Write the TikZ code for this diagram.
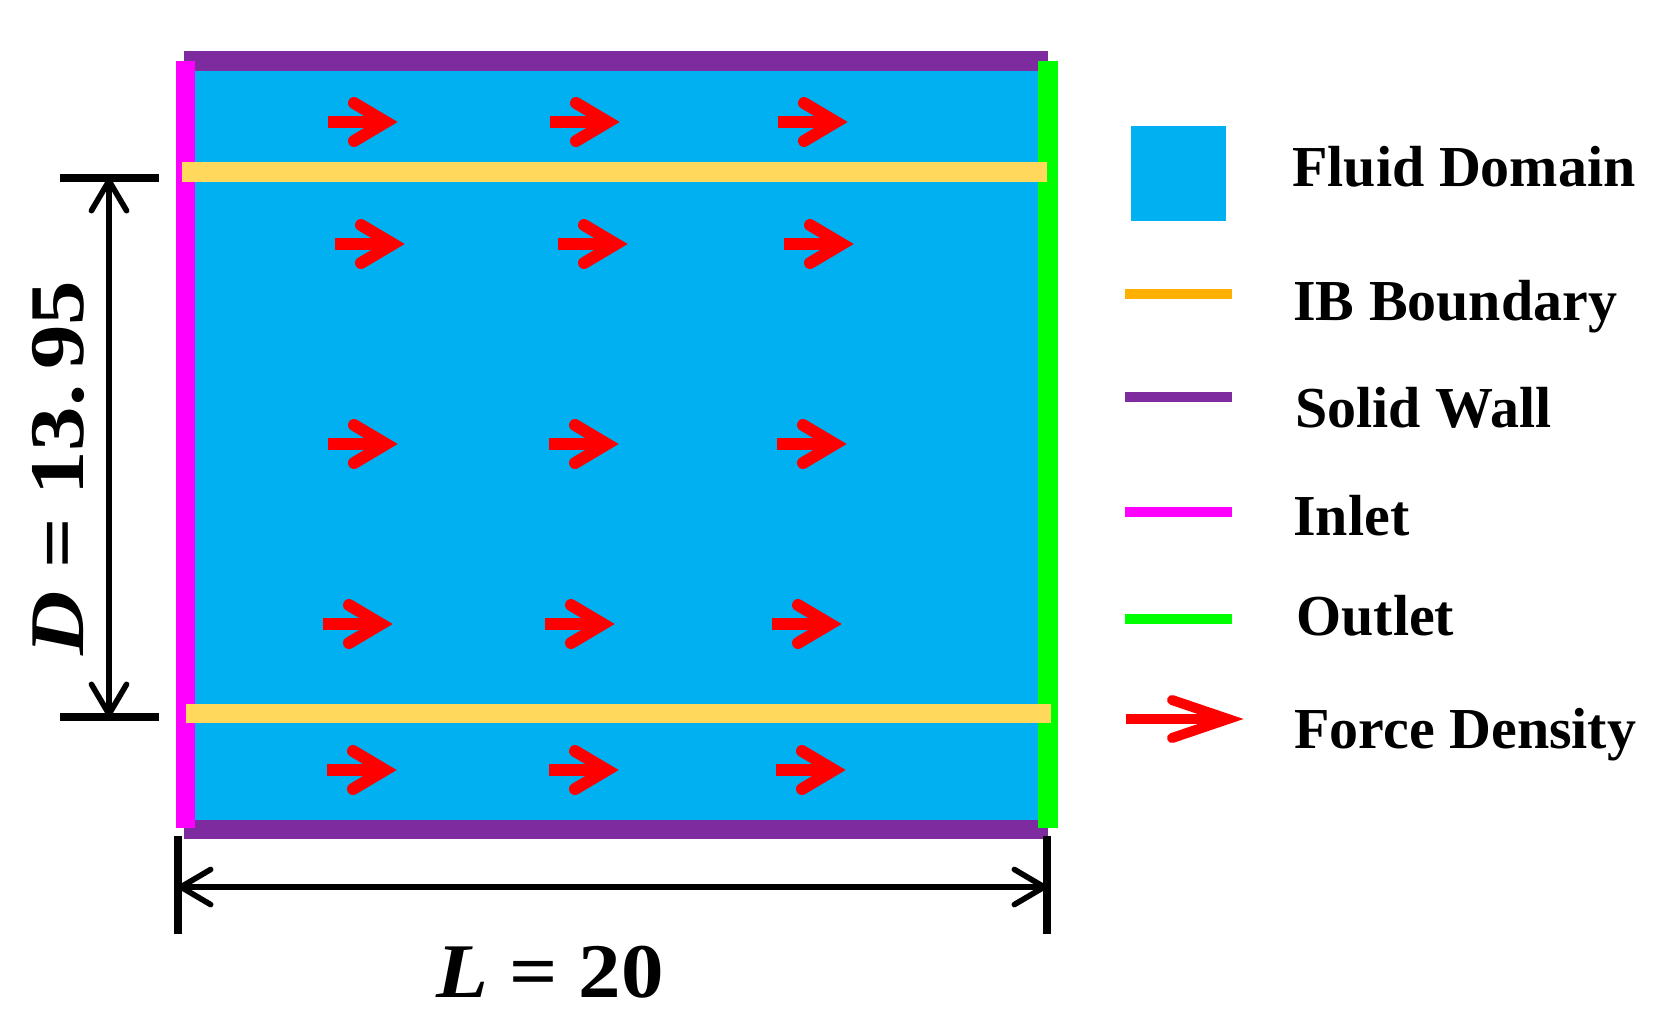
\documentclass[tikz,border=0pt]{standalone}
\usepackage{fontspec}
\setmainfont{Liberation Serif}
\usepackage{graphicx}
\usetikzlibrary{arrows.meta}
\definecolor{fluidblue}{HTML}{00B0F0}
\definecolor{wallpurple}{HTML}{7F2BA0}
\definecolor{inletmagenta}{HTML}{FF00FF}
\definecolor{outletgreen}{HTML}{00FF00}
\definecolor{ibyellow}{HTML}{FFD85C}
\definecolor{iborange}{HTML}{FFB000}
\definecolor{forcered}{HTML}{FF0000}
\def\forcearrow(#1,#2){\draw[forceshaft] (#1,#2) -- (#1+58,#2); \draw[forcehead] (#1+26,#2-19) -- (#1+58,#2) -- (#1+26,#2+19);}

\begin{document}
\begin{tikzpicture}[x=0.02cm, y=-0.02cm,
	forceshaft/.style={draw=forcered, line width=6.8pt},
	forcehead/.style={draw=forcered, line width=6.8pt, line cap=round, line join=miter},
	legendbar/.style={line width=5.7pt},
	dimtick/.style={draw=black, line width=4.5pt},
	dimarrow/.style={draw=black, line width=3.2pt, {Straight Barb[length=17pt,width=20pt,round]}-{Straight Barb[length=17pt,width=20pt,round]}},
	legendtext/.style={anchor=base west, inner sep=0pt, font=\fontsize{33}{40}\selectfont\bfseries},
	dimlabel/.style={anchor=base, inner sep=0pt, font=\fontsize{44}{52}\selectfont\bfseries}]
	%%%%% START %%%%%
	\useasboundingbox (0,0) rectangle (1659,1015);
	
	% domain
	\fill[fluidblue] (194,70) rectangle (1038,821);
	\fill[wallpurple] (184,51) rectangle (1048,71);
	\fill[wallpurple] (184,820) rectangle (1048,839);
	\fill[inletmagenta] (176,61) rectangle (195,828);
	\fill[outletgreen] (1038,61) rectangle (1058,828);
	\fill[ibyellow] (182,162) rectangle (1047,182);
	\fill[ibyellow] (186,704) rectangle (1051,723);
	
	% force density
	\forcearrow(328,122) \forcearrow(550,122) \forcearrow(778,122)
	\forcearrow(335,244) \forcearrow(558,244) \forcearrow(784,244)
	\forcearrow(328,444) \forcearrow(549,444) \forcearrow(777,444)
	\forcearrow(323,624) \forcearrow(545,624) \forcearrow(772,624)
	\forcearrow(327,770) \forcearrow(549,770) \forcearrow(776,770)
	
	% D
	\coordinate (dtopL) at (60,178); \coordinate (dtopR) at (159,178);
	\coordinate (dbotL) at (60,717); \coordinate (dbotR) at (159,717);
	\coordinate (dtop) at (109,178); \coordinate (dbot) at (109,717);
	\draw[dimtick] (dtopL) -- (dtopR);
	\draw[dimtick] (dbotL) -- (dbotR);
	\draw[dimarrow] (dtop) -- (dbot);
	\node[dimlabel, rotate=90] (dlabel) at (83,468) {\scalebox{1.15}[1]{\textit{D} = 13.\,95}};
	
	% L
	\coordinate (lleftT) at (178,836); \coordinate (lleftB) at (178,934);
	\coordinate (lrightT) at (1047,836); \coordinate (lrightB) at (1047,934);
	\coordinate (lleft) at (178,887); \coordinate (lright) at (1047,887);
	\draw[dimtick] (lleftT) -- (lleftB);
	\draw[dimtick] (lrightT) -- (lrightB);
	\draw[dimarrow] (lleft) -- (lright);
	\node[dimlabel] (llabel) at (550,997) {\scalebox{1.1}[1]{\textit{L} = 20}};
	
	% legend
	\fill[fluidblue] (1131,126) rectangle (1226,221);
	\draw[legendbar, iborange] (1125,294) -- (1232,294);
	\draw[legendbar, wallpurple] (1125,397) -- (1232,397);
	\draw[legendbar, inletmagenta] (1125,512) -- (1232,512);
	\draw[legendbar, outletgreen] (1125,619) -- (1232,619);
	\draw[forcered, line width=5.7pt] (1126,719) -- (1228,719);
	\draw[forcered, line width=5.7pt, line cap=round] (1172,700) -- (1228,719) -- (1172,738);
	
	\node[legendtext] (fluid) at (1292,186) {Fluid Domain};
	\node[legendtext] (ib) at (1293,320) {IB Boundary};
	\node[legendtext] (wall) at (1295,427) {Solid Wall};
	\node[legendtext] (inlet) at (1293,535) {Inlet};
	\node[legendtext] (outlet) at (1296,635) {Outlet};
	\node[legendtext] (force) at (1294,748) {Force Density};
	
	%%%%% END %%%%%
\end{tikzpicture}
\end{document}
